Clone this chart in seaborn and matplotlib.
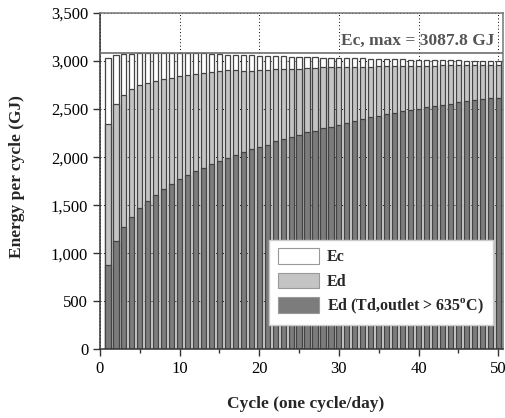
import matplotlib
matplotlib.use("Agg")
import matplotlib.pyplot as plt
import seaborn as sns
import pandas as pd
from matplotlib.patches import Patch
from matplotlib.ticker import FuncFormatter, MultipleLocator

cycles = list(range(1, 51))
ec = [3035, 3058, 3070, 3076, 3082, 3086, 3088, 3087, 3086, 3085,
      3084, 3082, 3080, 3076, 3072, 3068, 3064, 3060, 3058, 3056,
      3053, 3050, 3048, 3046, 3043, 3041, 3039, 3037, 3035, 3033,
      3031, 3029, 3027, 3025, 3023, 3021, 3019, 3017, 3015, 3013,
      3012, 3010, 3009, 3007, 3006, 3004, 3003, 3002, 3000, 2999]
ed = [2344, 2549, 2645, 2708, 2746, 2773, 2794, 2815, 2829, 2843,
      2853, 2864, 2871, 2885, 2895, 2902, 2905, 2898, 2900, 2903,
      2912, 2914, 2915, 2918, 2920, 2928, 2932, 2934, 2936, 2937,
      2938, 2940, 2940, 2942, 2944, 2945, 2946, 2948, 2949, 2950,
      2952, 2952, 2954, 2955, 2956, 2958, 2959, 2960, 2961, 2962]
ed_hot = [878, 1128, 1273, 1381, 1474, 1544, 1609, 1665, 1717, 1769,
          1810, 1855, 1890, 1928, 1959, 1987, 2022, 2056, 2084, 2105,
          2129, 2164, 2188, 2212, 2230, 2258, 2275, 2299, 2313, 2334,
          2355, 2379, 2396, 2414, 2427, 2448, 2465, 2483, 2490, 2500,
          2521, 2535, 2545, 2555, 2573, 2587, 2594, 2604, 2614, 2618]
ec_max = 3087.8
legend_labels = ["Ec", "Ed", r"Ed (Td,outlet > 635$^{\mathbf{o}}$C)"]
annot_text = "Ec, max = 3087.8 GJ"

sns.set_theme(style="white")
plt.rcParams["font.family"] = ["Liberation Serif", "DejaVu Serif"]
plt.rcParams["mathtext.fontset"] = "custom"
plt.rcParams["mathtext.rm"] = "Liberation Serif"
plt.rcParams["mathtext.bf"] = "Liberation Serif:bold"

fig = plt.figure(figsize=(5.06, 4.18), dpi=100)
ax = fig.add_axes([0.1976, 0.1639, 0.7964, 0.805])

df = pd.DataFrame({"cycle": cycles, "Ec": ec, "Ed": ed, "Edh": ed_hot})
edge = "#444444"
colors = {"Ec": "#ffffff", "Ed": "#c4c4c4", "Edh": "#7c7c7c"}
for col in ["Ec", "Ed", "Edh"]:
    sns.barplot(data=df, x="cycle", y=col, native_scale=True, color=colors[col],
                saturation=1, width=0.65, errorbar=None, edgecolor=edge,
                linewidth=0.9, ax=ax, zorder=2)

ax.axhline(ec_max, color="#6e6e6e", lw=1.2, zorder=3)
ax.text(49.5, 3207, annot_text, ha="right", va="center", fontsize=12.5,
        fontweight="bold", color="#555555", zorder=4)

ax.set_xlim(0, 50.6)
ax.set_ylim(0, 3500)
ax.xaxis.set_major_locator(MultipleLocator(10))
ax.xaxis.set_minor_locator(MultipleLocator(5))
ax.yaxis.set_major_locator(MultipleLocator(500))
ax.yaxis.set_major_formatter(FuncFormatter(lambda v, p: f"{int(v):,}"))
ax.xaxis.set_major_formatter(FuncFormatter(lambda v, p: f"{int(v)}"))
ax.set_axisbelow(True)
ax.grid(True, which="major", color="black", linestyle=(0, (1, 2.5)), linewidth=0.7)

ax.tick_params(axis="both", which="major", direction="out", length=5, width=1,
               color="#333333", labelsize=12, labelcolor="black", bottom=True, left=True)
ax.tick_params(axis="x", which="minor", direction="out", length=3, width=1,
               color="#333333", bottom=True)
for s in ["left", "bottom"]:
    ax.spines[s].set_color("#333333")
    ax.spines[s].set_linewidth(1.1)
for s in ["top", "right"]:
    ax.spines[s].set_color("#777777")
    ax.spines[s].set_linewidth(1.1)

ax.set_xlabel("Cycle (one cycle/day)", fontsize=12.5, fontweight="bold")
ax.set_ylabel("Energy per cycle (GJ)", fontsize=12.5, fontweight="bold")
ax.xaxis.set_label_coords(0.51, -0.138)
ax.yaxis.set_label_coords(-0.186, 0.513)

handles = [Patch(facecolor=colors[c], edgecolor="#999999", linewidth=0.8) for c in ["Ec", "Ed", "Edh"]]
leg = ax.legend(handles, legend_labels, loc="lower right", bbox_to_anchor=(0.975, 0.073),
                borderaxespad=0, fancybox=False, framealpha=1, edgecolor="#cccccc",
                prop={"weight": "bold", "size": 11.5}, handlelength=2.6, handleheight=1.1,
                labelspacing=0.45, handletextpad=0.5, borderpad=0.55)
leg.get_frame().set_linewidth(1.0)
leg.set_zorder(5)

fig.savefig("out.png", dpi=100)
